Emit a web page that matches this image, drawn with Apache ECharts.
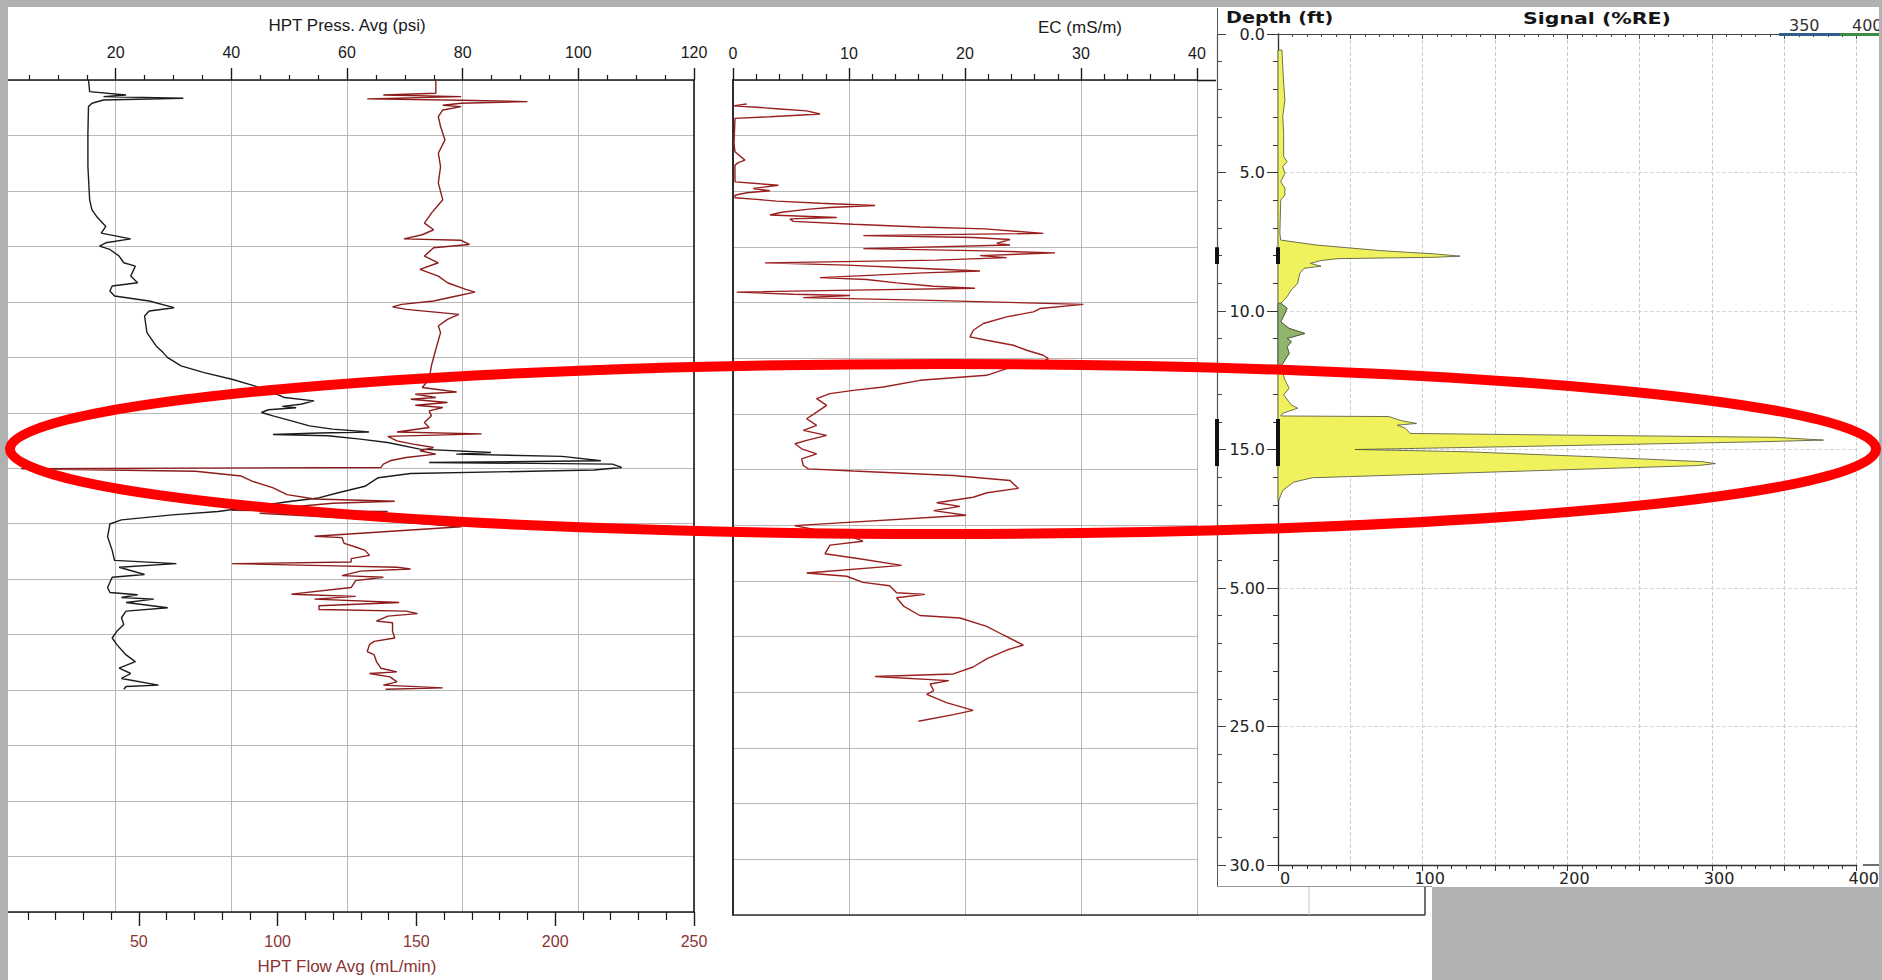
<!DOCTYPE html>
<html><head><meta charset="utf-8">
<script src="https://cdn.jsdelivr.net/npm/echarts@6/dist/echarts.min.js"></script>
<style>html,body{margin:0;padding:0;background:#b1b1b1;}#c{width:1882px;height:980px;}</style>
</head><body><div id="c"></div>
<script>
// ---------- DATA (depth in ft, value) ----------
// HPT pressure average, psi  [depth, psi]
const pressReadings = [
 [0.00,15.3],[0.42,15.5],[0.54,21.8],[0.60,17.9],[0.66,31.7],[0.72,17.9],[0.84,15.9],[0.96,15.3],
 [1.92,15.2],[3.12,15.2],[4.32,15.5],[4.68,15.9],[4.92,16.7],[5.28,18.3],[5.52,17.5],[5.73,22.6],
 [5.87,18.3],[5.99,17.2],[6.11,19.0],[6.35,20.6],[6.59,21.4],[6.71,23.4],[6.89,23.0],[7.07,22.6],
 [7.31,23.8],[7.43,19.4],[7.61,19.0],[7.79,19.8],[7.97,25.8],[8.21,30.1],[8.33,25.8],[8.51,25.0],
 [9.11,25.4],[9.59,27.0],[9.83,28.2],[10.01,29.0],[10.31,31.3],[10.55,35.3],[10.79,40.1],[11.03,44.0],
 [11.27,47.2],[11.45,49.2],[11.57,54.3],[11.69,52.0],[11.77,48.8],[11.82,51.2],[11.89,46.4],[11.99,45.2],
 [12.11,47.2],[12.29,50.4],[12.47,53.5],[12.59,57.5],[12.69,63.8],[12.73,55.1],[12.78,47.2],[12.83,56.7],
 [12.95,62.3],[13.07,67.0],[13.31,72.6],[13.43,84.9],[13.49,78.9],[13.57,97.2],[13.73,103.9],[13.79,74.2],
 [13.85,105.9],[13.97,107.5],[14.06,102.7],[14.10,94.0],[14.19,71.0],[14.34,65.4],[14.65,63.1],[14.89,58.3],
 [15.07,55.1],[15.19,50.4],[15.38,44.0],[15.56,37.7],[15.68,29.8],[15.86,21.0],[16.01,19.0],[16.47,18.6],
 [16.96,19.4],[17.32,19.8],[17.44,30.5],[17.57,20.6],[17.83,25.0],[17.93,19.4],[18.30,18.6],[18.48,19.0],
 [18.56,23.8],[18.66,21.0],[18.72,26.6],[18.84,21.8],[19.03,29.0],[19.15,21.8],[19.39,21.0],[19.63,21.4],
 [19.88,20.2],[20.12,19.4],[20.36,20.2],[20.73,21.8],[20.97,23.4],[21.21,20.6],[21.40,22.6],[21.58,21.0],
 [21.82,27.4],[21.87,21.8],[21.97,21.4]
];
// HPT flow average, mL/min  [depth, mL/min]
const flowReadings = [
 [0.00,157.0],[0.48,157.0],[0.54,138.1],[0.60,166.1],[0.68,132.3],[0.73,166.1],[0.78,190.0],[0.84,166.1],
 [0.91,159.5],[0.96,166.1],[1.08,159.5],[1.32,157.9],[1.68,158.7],[2.16,160.3],[2.64,157.9],[3.12,158.7],
 [3.72,157.9],[4.32,159.5],[4.80,155.4],[5.16,152.9],[5.40,156.2],[5.58,152.1],[5.73,145.5],[5.78,166.1],
 [5.93,169.1],[6.05,156.2],[6.35,152.9],[6.59,157.9],[6.83,151.3],[7.07,157.9],[7.31,161.2],[7.55,167.8],
 [7.65,171.1],[7.79,164.5],[7.97,156.2],[8.09,144.7],[8.18,141.4],[8.27,146.3],[8.45,165.3],[8.63,161.2],
 [8.87,157.9],[9.11,158.7],[9.71,157.0],[10.31,155.4],[10.79,154.6],[11.09,152.1],[11.25,164.5],[11.33,149.6],
 [11.45,157.0],[11.51,148.0],[11.63,161.2],[11.73,149.6],[11.81,159.5],[11.93,154.6],[12.11,155.4],[12.35,152.9],
 [12.53,154.6],[12.69,143.0],[12.76,173.5],[12.85,139.7],[13.01,143.0],[13.13,148.8],[13.25,156.2],[13.37,151.3],
 [13.49,157.0],[13.61,146.3],[13.73,140.5],[13.85,138.1],[13.97,137.2],[14.02,7.7],[14.11,70.4],[14.28,86.9],
 [14.47,91.0],[14.71,98.4],[14.95,103.4],[15.11,113.3],[15.19,142.2],[15.26,119.9],[15.38,106.7],[15.52,83.6],
 [15.56,139.7],[15.62,93.5],[15.80,126.5],[16.11,166.1],[16.45,113.3],[16.50,123.2],[16.71,124.0],[16.84,128.1],
 [16.96,131.5],[17.14,133.1],[17.26,126.5],[17.38,126.5],[17.44,83.6],[17.51,116.6],[17.57,143.0],[17.63,147.9],
 [17.71,129.8],[17.87,123.2],[17.93,138.1],[18.05,128.1],[18.30,126.5],[18.54,105.0],[18.62,128.1],[18.72,113.3],
 [18.84,143.8],[18.96,114.9],[19.09,114.9],[19.15,146.3],[19.24,150.4],[19.33,139.7],[19.51,135.6],[19.57,141.4],
 [19.88,141.4],[20.12,142.2],[20.24,134.8],[20.36,133.1],[20.61,132.3],[20.73,134.8],[20.97,135.6],[21.21,137.2],
 [21.34,143.0],[21.40,133.1],[21.52,140.5],[21.70,143.0],[21.82,138.1],[21.92,159.5],[21.97,138.9]
];
// Electrical conductivity, mS/m  [depth, mS/m]
const ecReadings = [
 [0.86,1.18],[0.93,0.03],[0.98,2.04],[1.04,4.05],[1.11,6.35],[1.22,7.50],[1.32,3.19],[1.38,0.17],
 [2.28,0.09],[2.58,0.17],[2.88,1.03],[2.97,0.46],[3.06,0.17],[3.66,0.17],[3.72,2.04],[3.78,3.91],
 [3.90,1.75],[3.98,3.19],[4.05,1.18],[4.14,0.17],[4.23,0.17],[4.29,2.04],[4.35,3.76],[4.43,7.50],
 [4.51,12.24],[4.58,8.36],[4.65,6.35],[4.75,4.20],[4.85,3.19],[4.94,8.94],[4.99,4.91],[5.08,5.20],
 [5.18,10.37],[5.28,16.12],[5.35,21.72],[5.51,26.75],[5.59,11.24],[5.66,20.72],[5.73,23.88],[5.87,22.73],
 [5.93,23.88],[6.06,11.24],[6.14,21.87],[6.21,27.76],[6.31,21.29],[6.38,23.59],[6.47,17.56],[6.57,2.76],
 [6.65,9.80],[6.77,16.41],[6.86,21.29],[6.93,16.41],[7.00,12.67],[7.10,7.50],[7.17,11.52],[7.29,14.11],
 [7.41,17.27],[7.48,20.86],[7.55,10.37],[7.62,0.32],[7.70,5.20],[7.74,10.09],[7.82,6.06],[7.91,16.12],
 [8.06,30.20],[8.21,26.47],[8.33,25.89],[8.51,23.59],[8.75,21.58],[8.99,20.72],[9.23,20.43],[9.35,21.87],
 [9.53,24.17],[9.71,25.32],[9.89,26.75],[10.01,27.18],[10.19,26.47],[10.37,23.59],[10.61,21.87],[10.79,16.12],
 [11.03,12.96],[11.15,10.37],[11.27,8.36],[11.45,7.21],[11.69,8.07],[11.93,7.21],[12.17,6.35],[12.41,7.21],
 [12.59,6.06],[12.77,8.07],[12.95,6.35],[13.07,5.34],[13.25,5.92],[13.43,7.21],[13.61,5.92],[13.85,6.06],
 [13.97,6.49],[14.05,10.37],[14.21,18.99],[14.39,23.88],[14.51,24.17],[14.67,24.60],[14.83,21.90],[14.99,20.70],
 [15.19,17.56],[15.32,19.57],[15.47,17.30],[15.64,20.10],[16.01,5.30],[16.15,7.00],[16.30,9.50],[16.57,11.20],
 [16.71,8.36],[17.02,7.93],[17.20,10.90],[17.44,14.54],[17.71,6.35],[17.83,9.80],[18.05,11.20],[18.17,13.50],
 [18.42,14.10],[18.48,16.55],[18.60,14.10],[18.90,14.70],[19.24,16.10],[19.33,19.57],[19.63,21.87],[19.94,23.30],
 [20.30,25.03],[20.48,23.60],[20.79,21.90],[21.09,20.70],[21.34,19.00],[21.43,12.24],[21.58,18.60],[21.70,17.00],
 [21.94,17.30],[22.07,16.70],[22.37,18.40],[22.65,20.70],[22.80,19.00],[23.04,15.98]
];
// Fluorescence signal, %RE  [depth, %RE]
const signalReadings = [
 [0.58,2.7],[1.78,3.9],[2.38,4.8],[2.99,3.3],[3.59,3.9],[4.43,3.9],[4.61,6.3],[4.79,3.3],[5.03,4.8],
 [5.33,1.9],[5.57,4.8],[5.81,4.8],[6.00,1.9],[7.20,1.3],[7.44,1.9],[7.62,26.8],[7.82,70.7],[7.94,108.8],
 [8.02,125.8],[8.06,108.8],[8.11,41.4],[8.18,29.7],[8.28,22.4],[8.38,29.7],[8.46,18.0],[8.64,15.1],
 [9.00,13.6],[9.24,9.2],[9.48,6.3],[9.66,3.3],[9.72,1.9],[9.90,6.3],[10.08,4.8],[10.39,1.9],[10.63,7.7],
 [10.81,18.6],[10.99,6.3],[11.11,9.2],[11.29,6.3],[11.53,7.7],[11.77,4.8],[12.01,1.9],[12.49,4.8],
 [12.79,7.7],[13.03,3.9],[13.39,9.2],[13.51,13.6],[13.69,3.3],[13.79,1.9],[13.81,76.6],[13.96,85.4],
 [14.06,95.7],[14.12,82.5],[14.24,88.3],[14.42,91.3],[14.56,343.3],[14.66,377.0],[14.72,334.5],
 [14.90,158.7],[15.00,53.2],[15.08,129.4],[15.26,217.3],[15.44,293.5],[15.51,302.3],[15.58,290.0],
 [16.02,23.8],[16.18,10.7],[16.48,3.3],[16.85,0.4]
];
// green-coloured part of the signal log  [depth, %RE]
const signalGreenReadings = [
 [9.72,1.9],[9.90,6.3],[10.08,4.8],[10.39,1.9],[10.63,7.7],[10.81,18.6],[10.99,6.3],[11.11,9.2],
 [11.29,6.3],[11.53,7.7],[11.77,4.8],[12.01,1.9]
];
// thick depth markers on the depth axis  [from ft, to ft]
const depthMarkers = [[7.7,8.3],[13.9,15.6]];
// tick labels
const depthTickLabels = ['0.0','5.0','10.0','15.0','5.00','25.0','30.0'];
const legendLabels = ['350','400'];

// ---------- CHART ----------
const LS = 'Liberation Sans, Arial, sans-serif';
const DV = 'DejaVu Sans, Verdana, sans-serif';
const RED = '#8a3434';
const swap = arr => arr.map(r => [r[1], r[0]]);
const chart = echarts.init(document.getElementById('c'), null, {renderer: 'svg'});

function polygonSeries(readings, fill, xi, yi) {
  const pts = swap(readings);
  return {
    type: 'custom', xAxisIndex: xi, yAxisIndex: yi, data: pts, z: 5,
    renderItem: function (params, api) {
      if (params.dataIndex !== 0) return null;
      const poly = [api.coord([0, pts[0][1]])];
      pts.forEach(p => poly.push(api.coord(p)));
      poly.push(api.coord([0, pts[pts.length - 1][1]]));
      return {type: 'polygon', shape: {points: poly},
        style: {fill: fill, stroke: '#4d4d3a', lineWidth: 0.8}};
    }
  };
}
function markerData() {
  const out = [];
  depthMarkers.forEach((m, i) => {
    if (i) out.push(['-', '-']);
    out.push([0, m[0]], [0, m[1]]);
  });
  return out;
}

const gridLine = {show: true, lineStyle: {color: '#b9b9b9', width: 1}};
const depthCommon = {type: 'value', min: 0, max: 30, inverse: true};

const option = {
  animation: false,
  backgroundColor: '#b1b1b1',
  grid: [
    {left: 0, top: 80, width: 694, height: 834},
    {left: 733, top: 80, width: 464, height: 835},
    {left: 1278, top: 34, width: 585, height: 831},
    {left: 1217, top: 34, width: 1, height: 831}
  ],
  xAxis: [
    { // 0 press
      gridIndex: 0, type: 'value', position: 'top', min: 0, max: 120, interval: 20,
      name: 'HPT Press. Avg (psi)', nameLocation: 'middle', nameGap: 46, nameMoveOverlap: false,
      nameTextStyle: {fontFamily: LS, fontSize: 17, color: '#1a1a1a'},
      axisLine: {show: true, onZero: false, lineStyle: {color: '#1a1a1a', width: 1.6}},
      axisTick: {show: true, length: 12, lineStyle: {color: '#1a1a1a', width: 1.4}},
      minorTick: {show: true, splitNumber: 4, length: 5, lineStyle: {color: '#1a1a1a', width: 1.2}},
      axisLabel: {fontFamily: LS, fontSize: 16, color: '#1a1a1a', margin: 20, showMinLabel: false},
      splitLine: gridLine
    },
    { // 1 flow
      gridIndex: 0, type: 'value', position: 'bottom', min: 0, max: 250, interval: 50,
      name: 'HPT Flow Avg (mL/min)', nameLocation: 'middle', nameGap: 46, nameMoveOverlap: false,
      nameTextStyle: {fontFamily: LS, fontSize: 17, color: RED},
      axisLine: {show: true, onZero: false, lineStyle: {color: '#1a1a1a', width: 1.6}},
      axisTick: {show: true, length: 14, lineStyle: {color: '#1a1a1a', width: 1.4}},
      minorTick: {show: true, splitNumber: 5, length: 8, lineStyle: {color: '#1a1a1a', width: 1.2}},
      axisLabel: {fontFamily: LS, fontSize: 16, color: RED, margin: 21, showMinLabel: false},
      splitLine: {show: false}
    },
    { // 2 EC
      gridIndex: 1, type: 'value', position: 'top', min: 0, max: 40, interval: 10,
      name: 'EC (mS/m)', nameLocation: 'middle', nameGap: 44, nameMoveOverlap: false,
      nameTextStyle: {fontFamily: LS, fontSize: 17, color: '#1a1a1a', padding: [0, 0, 0, 230]},
      axisLine: {show: true, onZero: false, lineStyle: {color: '#1a1a1a', width: 1.6}},
      axisTick: {show: true, length: 12, lineStyle: {color: '#1a1a1a', width: 1.4}},
      minorTick: {show: true, splitNumber: 5, length: 6, lineStyle: {color: '#1a1a1a', width: 1.2}},
      axisLabel: {fontFamily: LS, fontSize: 16, color: '#1a1a1a', margin: 19},
      splitLine: gridLine
    },
    { // 3 signal bottom
      gridIndex: 2, type: 'value', position: 'bottom', min: 0, max: 400, interval: 50,
      axisLine: {show: true, onZero: false, lineStyle: {color: '#333', width: 1.4}},
      axisTick: {show: true, length: 6, lineStyle: {color: '#333'}},
      minorTick: {show: true, splitNumber: 5, length: 4, lineStyle: {color: '#333'}},
      axisLabel: {fontFamily: DV, fontSize: 16, color: '#222', margin: 5, padding: [0, 0, 0, 14],
        formatter: v => (v % 100 === 0 ? String(v) : '')},
      splitLine: {show: true, lineStyle: {color: '#cfcfcf', type: 'dashed', width: 1}}
    },
    { // 4 signal top
      gridIndex: 2, type: 'value', position: 'top', min: 0, max: 400, interval: 50,
      axisLine: {show: true, onZero: false, lineStyle: {color: '#444', width: 1.2}},
      axisTick: {show: true, inside: true, length: 5, lineStyle: {color: '#444'}},
      minorTick: {show: true, splitNumber: 5, length: 3, lineStyle: {color: '#444'}},
      axisLabel: {show: false}, splitLine: {show: false}
    },
    { // 5 ghost column
      gridIndex: 3, type: 'value', min: 0, max: 1, show: false
    }
  ],
  yAxis: [
    Object.assign({gridIndex: 0, interval: 2, axisLine: {show: false}, axisTick: {show: false},
      axisLabel: {show: false}, splitLine: gridLine}, depthCommon),
    Object.assign({gridIndex: 0, position: 'right', interval: 2,
      axisLine: {show: true, onZero: false, lineStyle: {color: '#1a1a1a', width: 1.6}},
      axisTick: {show: false}, axisLabel: {show: false}, splitLine: {show: false}}, depthCommon),
    Object.assign({gridIndex: 1, position: 'left', interval: 2,
      axisLine: {show: true, onZero: false, lineStyle: {color: '#1a1a1a', width: 1.8}},
      axisTick: {show: false}, axisLabel: {show: false}, splitLine: gridLine}, depthCommon),
    Object.assign({gridIndex: 2, position: 'left', interval: 5,
      axisLine: {show: true, onZero: false, lineStyle: {color: '#333', width: 1.4}},
      axisTick: {show: true, length: 11, lineStyle: {color: '#333'}},
      minorTick: {show: true, splitNumber: 5, length: 5, lineStyle: {color: '#333'}},
      axisLabel: {fontFamily: DV, fontSize: 16, color: '#222', margin: 13,
        formatter: v => depthTickLabels[Math.round(v / 5)]},
      splitLine: {show: true, lineStyle: {color: '#dadada', type: 'dashed', width: 1}}}, depthCommon),
    Object.assign({gridIndex: 3, position: 'left', interval: 5,
      axisLine: {show: true, onZero: false, lineStyle: {color: '#444', width: 1.2}},
      axisTick: {show: true, inside: true, length: 9, lineStyle: {color: '#444'}},
      minorTick: {show: true, splitNumber: 5, length: 5, lineStyle: {color: '#444'}},
      axisLabel: {show: false}, splitLine: {show: false}}, depthCommon)
  ],
  series: [
    {type: 'line', name: 'HPT Press. Avg', xAxisIndex: 0, yAxisIndex: 0, data: swap(pressReadings),
     symbol: 'none', lineStyle: {color: '#1c1c1c', width: 1.4}, z: 4},
    {type: 'line', name: 'HPT Flow Avg', xAxisIndex: 1, yAxisIndex: 0, data: swap(flowReadings),
     symbol: 'none', lineStyle: {color: '#8c1c1c', width: 1.4}, z: 4},
    {type: 'line', name: 'EC', xAxisIndex: 2, yAxisIndex: 2, data: swap(ecReadings),
     symbol: 'none', lineStyle: {color: '#9a1f1f', width: 1.4}, z: 4},
    polygonSeries(signalReadings, '#eff25c', 3, 3),
    polygonSeries(signalGreenReadings, '#8fb66c', 3, 3),
    {type: 'line', xAxisIndex: 3, yAxisIndex: 3, data: markerData(), symbol: 'none',
     lineStyle: {color: '#111', width: 4}, z: 6, clip: false},
    {type: 'line', xAxisIndex: 5, yAxisIndex: 4, data: markerData(), symbol: 'none',
     lineStyle: {color: '#111', width: 4}, z: 6, clip: false}
  ],
  graphic: [
    {type: 'rect', shape: {x: 8, y: 7, width: 1871, height: 973}, style: {fill: '#ffffff'}, z: -20, silent: true},
    {type: 'rect', shape: {x: 1432, y: 887, width: 450, height: 93}, style: {fill: '#b1b1b1'}, z: -19, silent: true},
    {type: 'line', shape: {x1: 1197, y1: 80.5, x2: 1216, y2: 80.5}, style: {stroke: '#1a1a1a', lineWidth: 1.6}, z: 3},
    {type: 'line', shape: {x1: 733, y1: 915, x2: 1425, y2: 915}, style: {stroke: '#333', lineWidth: 1.6}, z: 3},
    {type: 'line', shape: {x1: 1425, y1: 887, x2: 1425, y2: 915}, style: {stroke: '#333', lineWidth: 1.4}, z: 3},
    {type: 'line', shape: {x1: 1309, y1: 887, x2: 1309, y2: 915}, style: {stroke: '#c4c4c4', lineWidth: 1}, z: 3},
    {type: 'line', shape: {x1: 1217, y1: 886.5, x2: 1432, y2: 886.5}, style: {stroke: '#9a9a9a', lineWidth: 1}, z: 3},
    {type: 'line', shape: {x1: 1217.5, y1: 8, x2: 1217.5, y2: 886}, style: {stroke: '#555', lineWidth: 1}, z: 3},
    {type: 'line', shape: {x1: 1863, y1: 34, x2: 1879, y2: 34}, style: {stroke: '#444', lineWidth: 1.2}, z: 3},
    {type: 'line', shape: {x1: 1863, y1: 865, x2: 1879, y2: 865}, style: {stroke: '#333', lineWidth: 1.4}, z: 3},
    {type: 'rect', shape: {x: 1779, y: 33, width: 61, height: 3}, style: {fill: '#2f5d8c'}, z: 7},
    {type: 'rect', shape: {x: 1840, y: 33, width: 39, height: 3}, style: {fill: '#3c8c46'}, z: 7},
    {type: 'text', x: 1226, y: 18, scaleX: 1.2, z: 8,
     style: {text: 'Depth (ft)', fontFamily: DV, fontWeight: 'bold', fontSize: 16, fill: '#151515',
       textAlign: 'left', align: 'left', textVerticalAlign: 'middle', verticalAlign: 'middle'}},
    {type: 'text', x: 1597, y: 18, scaleX: 1.28, z: 8,
     style: {text: 'Signal (%RE)', fontFamily: DV, fontWeight: 'bold', fontSize: 16, fill: '#151515',
       textAlign: 'center', align: 'center', textVerticalAlign: 'middle', verticalAlign: 'middle'}},
    {type: 'text', x: 1789, y: 25, z: 8,
     style: {text: legendLabels[0], fontFamily: DV, fontSize: 16, fill: '#333',
       textAlign: 'left', align: 'left', textVerticalAlign: 'middle', verticalAlign: 'middle'}},
    {type: 'text', x: 1852, y: 25, z: 8,
     style: {text: legendLabels[1], fontFamily: DV, fontSize: 16, fill: '#333',
       textAlign: 'left', align: 'left', textVerticalAlign: 'middle', verticalAlign: 'middle'}},
    // scan borders
    {type: 'rect', shape: {x: 0, y: 0, width: 8, height: 980}, style: {fill: '#b1b1b1'}, z: 90, silent: true},
    {type: 'rect', shape: {x: 0, y: 0, width: 1882, height: 7}, style: {fill: '#b1b1b1'}, z: 90, silent: true},
    {type: 'rect', shape: {x: 1879, y: 0, width: 3, height: 887}, style: {fill: '#b1b1b1'}, z: 90, silent: true},
    // red highlight ellipse
    {type: 'ellipse', shape: {cx: 943, cy: 449, rx: 933, ry: 85},
     style: {fill: 'none', stroke: '#ff0000', lineWidth: 10}, z: 100, silent: true}
  ]
};
chart.setOption(option);
</script></body></html>
